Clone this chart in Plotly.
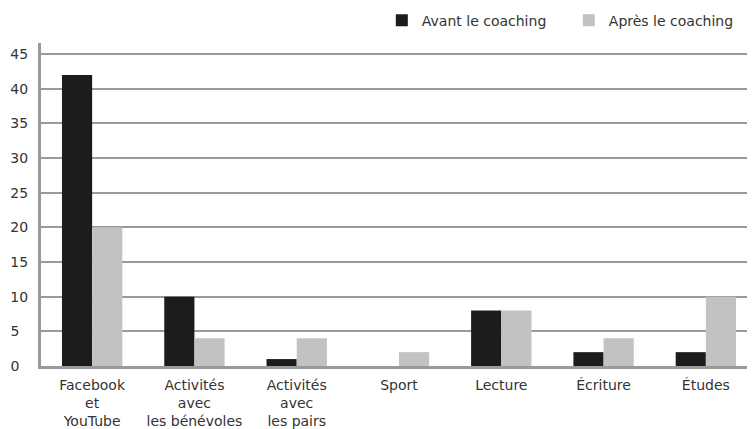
import plotly.graph_objects as go

categories = ["Facebook<br>et<br>YouTube", "Activités<br>avec<br>les bénévoles",
              "Activités<br>avec<br>les pairs", "Sport", "Lecture", "Écriture", "Études"]
avant = [42, 10, 1, 0, 8, 2, 2]
apres = [20, 4, 4, 2, 8, 4, 10]
series_names = ["Avant le coaching", "Après le coaching"]
y_ticks = [0, 5, 10, 15, 20, 25, 30, 35, 40, 45]

# pad single-digit labels so that the tick labels look left-aligned
y_ticktext = [str(v) + ("\u00a0\u00a0" if v < 10 else "") for v in y_ticks]

FONT = "DejaVu Sans"
fig = go.Figure()
fig.add_trace(go.Bar(x=categories, y=avant, name=series_names[0],
                     marker=dict(color="#1c1c1c", line=dict(width=0))))
fig.add_trace(go.Bar(x=categories, y=apres, name=series_names[1],
                     marker=dict(color="#c2c2c4", line=dict(width=0))))

fig.update_layout(
    width=749, height=421,
    margin=dict(l=33, r=0, t=35, b=63, autoexpand=False),
    paper_bgcolor="white", plot_bgcolor="white",
    barmode="group", bargap=0.41, bargroupgap=0,
    font=dict(family=FONT, size=14, color="#333333"),
    showlegend=True,
    legend=dict(orientation="h", x=0.476, xanchor="left", y=1.02, yanchor="bottom",
                entrywidthmode="pixels", entrywidth=142,
                font=dict(family=FONT, size=14, color="#333333"),
                bgcolor="rgba(0,0,0,0)"),
    xaxis=dict(showline=True, linecolor="#9a9a9a", linewidth=3, ticks="",
               showgrid=False, tickfont=dict(size=14), zeroline=False,
               ticklabelstandoff=4, automargin=False),
    yaxis=dict(range=[0, 46.6], tickvals=y_ticks, ticktext=y_ticktext,
               showline=True, linecolor="#9a9a9a",
               linewidth=3, showgrid=True, gridcolor="#9a9a9a", gridwidth=1.5,
               ticks="", zeroline=False, tickfont=dict(size=14),
               ticklabelstandoff=7, automargin=False),
)

fig.write_html("out.html")
